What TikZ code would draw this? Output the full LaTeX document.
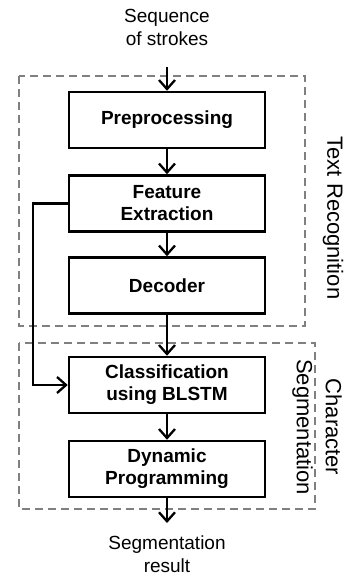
\documentclass[tikz,border=0pt]{standalone}
\usepackage{fontspec}
\setmainfont{Liberation Sans}
\usetikzlibrary{arrows.meta}
\begin{document}
\begin{tikzpicture}[x=1pt,y=-1pt,
  stagebox/.style={draw=black,line width=2.5pt,minimum width=196pt,minimum height=56pt,
    inner sep=0pt,align=center,font=\fontsize{19}{22}\selectfont\bfseries},
  plain/.style={align=center,font=\fontsize{19}{23}\selectfont},
  grouplabel/.style={align=center,font=\fontsize{22}{29}\selectfont,rotate=-90},
  groupbox/.style={draw=black!50,line width=1.5pt,dash pattern=on 8pt off 5pt},
  flow/.style={line width=2.3pt,-{Straight Barb[length=9pt,width=16pt,line width=2.3pt]}}]
\useasboundingbox (0,0) rectangle (346,576);
\draw[groupbox] (19,76) rectangle (305,326);
\draw[groupbox] (19,343) rectangle (315,509);
\node[plain] (src) at (167,27) {Sequence\\of strokes};
\coordinate (srcend) at (167,67);
\node[stagebox] (pre) at (167,120) {Preprocessing};
\node[stagebox] (feat) at (167,203.5) {Feature\\Extraction};
\node[stagebox] (dec) at (167,285.5) {Decoder};
\node[stagebox] (cls) at (167,385) {Classification\\using BLSTM};
\node[stagebox] (dyn) at (167,469) {Dynamic\\Programming};
\coordinate (resend) at (167,523);
\node[plain] (res) at (167,554) {Segmentation\\result};
\node[grouplabel] (tr) at (333,218) {Text Recognition};
\node[grouplabel] (cs) at (317,427) {Character\\Segmentation};
\draw[flow] (srcend) -- (pre.north);
\draw[flow] (pre) -- (feat);
\draw[flow] (feat) -- (dec);
\draw[flow] (dec) -- (cls);
\draw[flow] (cls) -- (dyn);
\draw[flow] (dyn) -- (resend);
\draw[flow] (feat.west) -- (33,203.5) |- (cls.west);
\end{tikzpicture}
\end{document}
